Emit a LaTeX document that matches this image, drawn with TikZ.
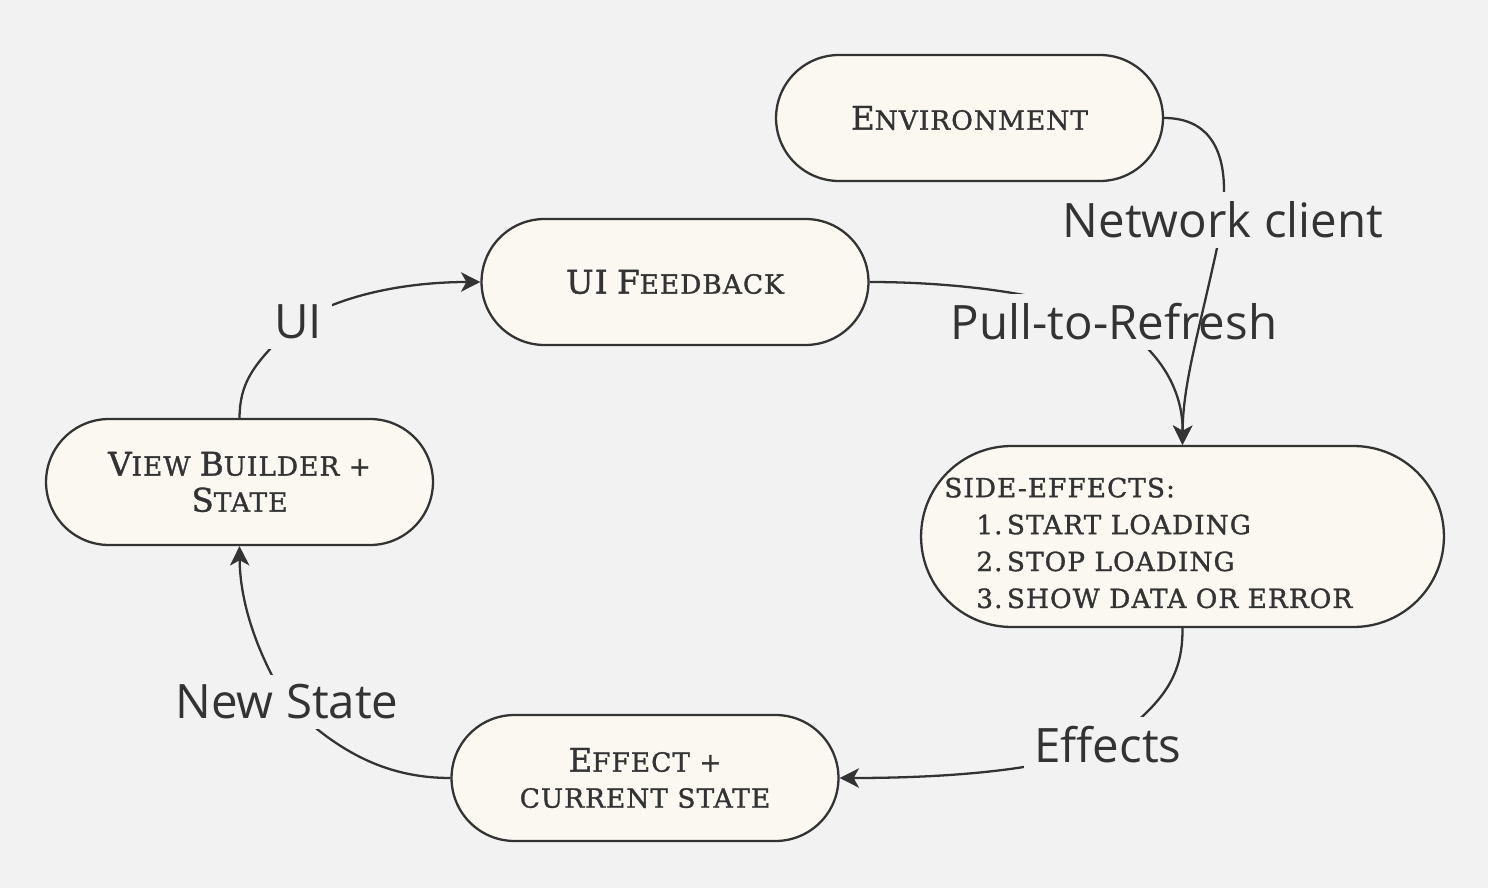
\documentclass[tikz,border=0pt]{standalone}
\usepackage{fontspec}
\usepackage{xcolor}
\usetikzlibrary{arrows.meta,positioning}

\newfontfamily\lblfont{Open Sans}
\newfontfamily\boxfont[LetterSpace=4,FakeBold=1.2]{DejaVu Serif}

\definecolor{bgc}{HTML}{F2F2F2}
\definecolor{boxc}{HTML}{FBF8F1}
\definecolor{linec}{HTML}{333333}
\definecolor{txtc}{HTML}{333333}

% fake small caps for the box texts
\newcommand\capbig[1]{{\fontsize{18.5pt}{20.5pt}\selectfont #1}}
\newcommand\capsmall[1]{{\fontsize{15pt}{20.5pt}\selectfont\MakeUppercase{#1}}}
\newcommand\smc[2]{\capbig{#1}\capsmall{#2}}

\begin{document}
\begin{tikzpicture}[
			x=0.02cm, y=-0.02cm,
			stadium/.style={draw=linec, line width=1.3pt, fill=boxc, text=txtc, align=center,
				minimum width=7.74cm, minimum height=2.52cm, rounded corners=1.26cm, inner sep=0pt,
				font=\boxfont\fontsize{15pt}{20.5pt}\selectfont},
			elabel/.style={fill=bgc, text=txtc, inner sep=0.2cm,
				font=\lblfont\fontsize{27pt}{30pt}\selectfont},
			flow/.style={draw=linec, line width=1.3pt, -{Stealth[length=11pt,width=11pt,inset=3pt]}}
			]
			\fill[bgc] (0,0) rectangle (1488,888);
			\useasboundingbox (0,0) rectangle (1488,888);

			% boxes
			\node[stadium] (env) at (969.5,118) {\smc{E}{nvironment}};
			\node[stadium] (uif) at (675,282) {\capbig{UI} \smc{F}{eedback}};
			\node[stadium] (vb) at (239.5,482) {\smc{V}{iew} \smc{B}{uilder} \capsmall{+}\\\smc{S}{tate}};
			\node[stadium, minimum width=10.46cm, minimum height=3.62cm, rounded corners=1.81cm]
				(side) at (1182.5,536.5) {};
			\node[text=txtc, inner sep=0pt, align=left, anchor=west,
				font=\boxfont\fontsize{15pt}{21pt}\selectfont] (sidetxt) at (944,543)
				{\capsmall{side-effects:}\\
				\hspace*{0.64cm}\capsmall{1.\,start loading}\\
				\hspace*{0.64cm}\capsmall{2.\,stop loading}\\
				\hspace*{0.64cm}\capsmall{3.\,show data or error}};
			\node[stadium] (eff) at (645,778) {\smc{E}{ffect} \capsmall{+}\\\capsmall{current state}};

			% label positions
			\coordinate (ptrpos) at (1114,322);
			\coordinate (ncpos) at (1223,220);
			\coordinate (efpos) at (1108,745);
			\coordinate (nspos) at (287,702);
			\coordinate (uipos) at (298,322);

			% UI Feedback -> side-effects
			\draw[flow] (uif.east) .. controls (960,282) and (1060,295) .. (ptrpos)
				.. controls (1160,350) and (1183,390) .. (side.north);
			\node[elabel] (ptr) at (ptrpos) {Pull-to-Refresh};

			% Environment -> side-effects
			\draw[flow] (env.east) .. controls (1205,118) and (1224,145) .. (1224,190) -- (ncpos)
				.. controls (1200,330) and (1183,380) .. (side.north);
			\node[elabel] (nc) at (ncpos) {Network client};

			% side-effects -> Effect
			\draw[flow] (side.south) .. controls (1183,680) and (1160,705) .. (efpos)
				.. controls (1050,770) and (950,778) .. (eff.east);
			\node[elabel] (efl) at (efpos) {Effects};

			% Effect -> View Builder
			\draw[flow] (eff.west) .. controls (390,778) and (340,755) .. (nspos)
				.. controls (255,650) and (240,600) .. (vb.south);
			\node[elabel] (nsl) at (nspos) {New State};

			% View Builder -> UI Feedback
			\draw[flow] (vb.north) .. controls (240,385) and (250,365) .. (uipos)
				.. controls (350,290) and (420,282) .. (uif.west);
			\node[elabel] (uil) at (uipos) {UI};

			\end{tikzpicture}
\end{document}
